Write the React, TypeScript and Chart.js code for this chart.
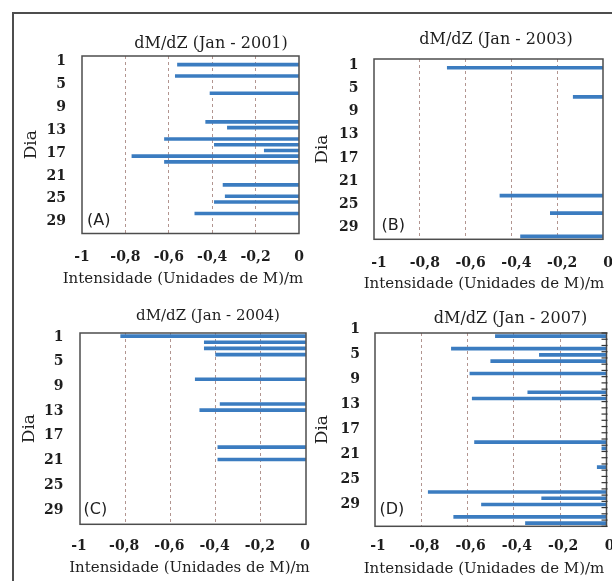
import React, { useEffect, useRef } from 'react';
import { Chart, registerables } from 'chart.js';

Chart.register(...registerables);

// ---------- data ----------
const dayLabels = ['1', '2', '3', '4', '5', '6', '7', '8', '9', '10', '11', '12', '13', '14', '15', '16', '17', '18', '19', '20', '21', '22', '23', '24', '25', '26', '27', '28', '29', '30', '31'];
const dayTickLabels = ['1', '5', '9', '13', '17', '21', '25', '29'];
const intensityTicks = [-1, -0.8, -0.6, -0.4, -0.2, 0];

const chartTitles = ['dM/dZ (Jan - 2001)', 'dM/dZ (Jan - 2003)', 'dM/dZ (Jan - 2004)', 'dM/dZ (Jan - 2007)'];
const panelLetters = ['(A)', '(B)', '(C)', '(D)'];
const xAxisTitle = 'Intensidade (Unidades de M)/m';
const yAxisTitle = 'Dia';

// dM/dZ per day (1..31); null = no value
const jan2001 = [null, -0.56, null, -0.57, null, null, -0.41, null, null, null, null, -0.43, -0.33, null, -0.62, -0.39, -0.16, -0.77, -0.62, null, null, null, -0.35, null, -0.34, -0.39, null, -0.48, null, null, null];
const jan2003 = [null, -0.68, null, null, null, null, -0.13, null, null, null, null, null, null, null, null, null, null, null, null, null, null, null, null, -0.45, null, null, -0.23, null, null, null, -0.36];
const jan2004 = [-0.82, -0.45, -0.45, -0.40, null, null, null, -0.49, null, null, null, -0.38, -0.47, null, null, null, null, null, -0.39, null, -0.39, null, null, null, null, null, null, null, null, null, null];
const jan2007 = [-0.48, null, -0.67, -0.29, -0.50, null, -0.59, null, null, -0.34, -0.58, null, null, null, null, null, null, -0.57, -0.02, null, null, -0.04, null, null, null, -0.77, -0.28, -0.54, null, -0.66, -0.35];

// ---------- layout / style (page coordinates) ----------
type Panel = {
  title: string;
  letter: string;
  values: (number | null)[];
  box: [number, number, number, number]; // canvas x, y, w, h
  area: [number, number, number, number]; // plot l, t, r, b
  titlePos: [number, number];
  titleSize: number;
  xLabelY: number;
  xTitlePos: [number, number];
  yTitleX: number;
  yLabelRight: number;
  xLabelOffset: number;
  yLabelOffset: number;
  letterPos: [number, number];
  rightTicks: boolean;
};

const panels: Panel[] = [
  {
    title: chartTitles[0], letter: panelLetters[0], values: jan2001,
    box: [14, 14, 296, 284], area: [82, 56, 299, 233.5],
    titlePos: [211, 44], titleSize: 16,
    xLabelY: 257, xTitlePos: [183, 279], yTitleX: 31.5, yLabelRight: 66,
    xLabelOffset: 0, yLabelOffset: 2.5, letterPos: [87, 221], rightTicks: false,
  },
  {
    title: chartTitles[1], letter: panelLetters[1], values: jan2003,
    box: [310, 14, 302, 284], area: [374, 59, 603, 239.3],
    titlePos: [496, 40], titleSize: 16,
    xLabelY: 263.5, xTitlePos: [484, 284.5], yTitleX: 323, yLabelRight: 358.5,
    xLabelOffset: 5, yLabelOffset: 3, letterPos: [381.5, 226], rightTicks: false,
  },
  {
    title: chartTitles[2], letter: panelLetters[2], values: jan2004,
    box: [14, 298, 296, 283], area: [80, 333, 306, 524.3],
    titlePos: [208, 316], titleSize: 15,
    xLabelY: 546.7, xTitlePos: [189.5, 568.3], yTitleX: 30, yLabelRight: 63.5,
    xLabelOffset: -1, yLabelOffset: 1, letterPos: [83.5, 510], rightTicks: false,
  },
  {
    title: chartTitles[3], letter: panelLetters[3], values: jan2007,
    box: [310, 298, 302, 283], area: [375, 333, 606.5, 526.3],
    titlePos: [510.5, 319], titleSize: 16,
    xLabelY: 546.7, xTitlePos: [484, 569.5], yTitleX: 322.5, yLabelRight: 360,
    xLabelOffset: 3, yLabelOffset: -6.5, letterPos: [379.5, 510], rightTicks: true,
  },
];

const barColor = '#3b7cc0';
const gridColor = 'rgba(165, 130, 125, 0.85)';
const textColor = '#1e1e1e';
const frameColor = '#4d4d4d';
const serif = '"DejaVu Serif", "Liberation Serif", serif';
const sans = '"DejaVu Sans", "Liberation Sans", sans-serif';
const xTitleSize = 15;

const decorPlugin = {
  id: 'panelDecor',
  afterDatasetsDraw(chart: any, _args: any, opts: any) {
    const { ctx, chartArea: a } = chart;
    ctx.save();
    ctx.strokeStyle = frameColor;
    ctx.lineWidth = 1.5;
    ctx.strokeRect(a.left, a.top, a.right - a.left, a.bottom - a.top);
    if (opts.rightTicks) {
      const ys = chart.scales.y;
      const half = (ys.getPixelForValue(1) - ys.getPixelForValue(0)) / 2;
      ctx.lineWidth = 1.2;
      ctx.strokeStyle = '#333';
      for (let i = 0; i <= dayLabels.length; i++) {
        const py = ys.getPixelForValue(i) - half;
        ctx.beginPath();
        ctx.moveTo(a.right - 5, py);
        ctx.lineTo(a.right + 1, py);
        ctx.stroke();
      }
    }
    ctx.fillStyle = textColor;
    ctx.textBaseline = 'middle';
    ctx.textAlign = 'left';
    ctx.font = `16px ${sans}`;
    ctx.fillText(opts.letter, opts.letterX, opts.letterY);
    ctx.textAlign = 'center';
    ctx.font = `${opts.titleSize}px ${serif}`;
    ctx.fillText(opts.title, opts.titleX, opts.titleY);
    ctx.font = `${xTitleSize}px ${serif}`;
    ctx.fillText(opts.xTitle, opts.xTitleX, opts.xTitleY);
    ctx.restore();
  },
};

function makeConfig(p: Panel): any {
  const [bx, by, bw, bh] = p.box;
  const [al, at, ar, ab] = p.area;
  const yAxisWidth = al - bx;
  const xAxisHeight = by + bh - ab;
  const tickSize = 14;
  const yTitleSize = 17;
  const tickFont = { family: serif, size: tickSize, weight: 'bold', lineHeight: 1.2 };
  const yTitleFont = { family: serif, size: yTitleSize, lineHeight: 1.2 };
  return {
    type: 'bar',
    data: {
      labels: dayLabels,
      datasets: [
        {
          data: p.values,
          backgroundColor: barColor,
          borderWidth: 0,
          barThickness: 3,
        },
      ],
    },
    options: {
      indexAxis: 'y',
      animation: false,
      responsive: false,
      devicePixelRatio: 1,
      events: [],
      layout: { padding: { left: 0, top: at - by, right: bx + bw - ar, bottom: 0 } },
      plugins: {
        legend: { display: false },
        title: { display: false },
        tooltip: { enabled: false },
        panelDecor: {
          letter: p.letter,
          letterX: p.letterPos[0] - bx,
          letterY: p.letterPos[1] - by,
          title: p.title,
          titleSize: p.titleSize,
          titleX: p.titlePos[0] - bx,
          titleY: p.titlePos[1] - by,
          xTitle: xAxisTitle,
          xTitleX: p.xTitlePos[0] - bx,
          xTitleY: p.xTitlePos[1] - by,
          rightTicks: p.rightTicks,
        },
      },
      scales: {
        x: {
          type: 'linear',
          min: -1,
          max: 0,
          afterBuildTicks: (s: any) => {
            s.ticks = intensityTicks.map((v) => ({ value: v }));
          },
          afterFit: (s: any) => {
            s.height = xAxisHeight;
            s.paddingLeft = 0;
            s.paddingRight = 0;
          },
          ticks: {
            autoSkip: false,
            maxRotation: 0,
            font: tickFont,
            color: textColor,
            padding: p.xLabelY - ab - (tickSize * 1.2) / 2,
            labelOffset: p.xLabelOffset,
            callback: (v: any) => String(v).replace('.', ','),
          },
          grid: {
            drawTicks: false,
            lineWidth: 1,
            color: (c: any) =>
              c.tick && (c.tick.value === -1 || c.tick.value === 0) ? 'rgba(0,0,0,0)' : gridColor,
          },
          border: { display: false, dash: [3, 3] },
          title: { display: false },
        },
        y: {
          type: 'category',
          afterFit: (s: any) => {
            s.width = yAxisWidth;
            s.paddingTop = 0;
            s.paddingBottom = 0;
          },
          ticks: {
            autoSkip: false,
            font: tickFont,
            color: textColor,
            padding: al - p.yLabelRight,
            labelOffset: p.yLabelOffset,
            callback: (_v: any, i: number) => (dayTickLabels.includes(dayLabels[i]) ? dayLabels[i] : ''),
          },
          grid: { display: false, drawTicks: false },
          border: { display: false },
          title: {
            display: true,
            text: yAxisTitle,
            font: yTitleFont,
            color: textColor,
            padding: { top: p.yTitleX - bx - (yTitleSize * 1.2) / 2, bottom: 0 },
          },
        },
      },
    },
    plugins: [decorPlugin],
  };
}

function PanelChart({ p }: { p: Panel }) {
  const ref = useRef<HTMLCanvasElement | null>(null);
  useEffect(() => {
    if (!ref.current) return;
    const chart = new Chart(ref.current, makeConfig(p));
    return () => chart.destroy();
  }, [p]);
  const [bx, by, bw, bh] = p.box;
  return (
    <canvas
      ref={ref}
      width={bw}
      height={bh}
      style={{ position: 'absolute', left: bx, top: by, width: bw, height: bh }}
    />
  );
}

export default function App() {
  return (
    <div
      style={{
        position: 'absolute',
        left: 0,
        top: 0,
        width: 612,
        height: 581,
        overflow: 'hidden',
        background: '#ffffff',
      }}
    >
      <div
        style={{
          position: 'absolute',
          left: 12,
          top: 12,
          width: 640,
          height: 620,
          borderLeft: `2px solid ${frameColor}`,
          borderTop: `2px solid ${frameColor}`,
        }}
      />
      {panels.map((p, i) => (
        <PanelChart key={i} p={p} />
      ))}
    </div>
  );
}
